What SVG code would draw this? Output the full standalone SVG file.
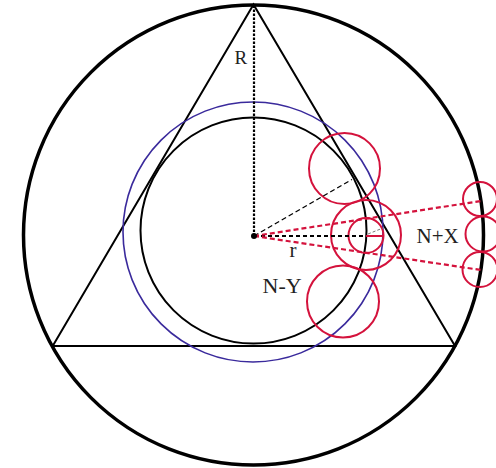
<svg xmlns="http://www.w3.org/2000/svg" width="496" height="468" viewBox="0 0 496 468">
<style>
.blk{fill:none;stroke:#000}
.red{fill:none;stroke:#d4123c;stroke-width:2}
.rdash{fill:none;stroke:#d4123c;stroke-width:2.2;stroke-dasharray:5 3}
.lbl{font-family:"Liberation Serif","Times New Roman",serif;fill:#222}
</style>
<rect width="496" height="468" fill="#fff"/>
<g id="outer-circle"><circle class="blk" cx="253.5" cy="235" r="230" stroke-width="3.5"/></g>
<g id="triangle"><polygon class="blk" points="253.5,4.5 52.7,346 455,346" stroke-width="2"/></g>
<g id="blue-circle"><circle cx="253" cy="232" r="130" fill="none" stroke="#3a2a9c" stroke-width="1.6"/></g>
<g id="inner-circle"><circle class="blk" cx="253.5" cy="230.5" r="113" stroke-width="2"/></g>
<g id="red-top"><circle class="red" cx="344.5" cy="168.5" r="35.5"/></g>
<g id="red-mid"><circle class="red" cx="366" cy="235" r="35"/></g>
<g id="red-small"><circle class="red" cx="366" cy="235.5" r="17.5"/></g>
<g id="red-bottom"><circle class="red" cx="343" cy="301.5" r="36"/></g>
<g id="red-right-top"><circle class="red" cx="480" cy="199" r="17"/></g>
<g id="red-right-mid"><circle class="red" cx="483" cy="234" r="17.5"/></g>
<g id="red-right-bottom"><circle class="red" cx="480" cy="269.5" r="17.5"/></g>
<g id="connectors">
<line x1="254" y1="236" x2="254" y2="6" stroke="#000" stroke-width="2.2" stroke-dasharray="2.5 1.5"/>
<line x1="254" y1="236" x2="352" y2="179.5" stroke="#000" stroke-width="1.3" stroke-dasharray="5 3"/>
<line x1="254" y1="236" x2="366" y2="236" stroke="#000" stroke-width="2" stroke-dasharray="4 3"/>
<line x1="366" y1="236" x2="383" y2="236" stroke="#d4123c" stroke-width="2"/>
<line x1="368" y1="234" x2="383" y2="228" stroke="#777" stroke-width="1" stroke-dasharray="3 2"/>
<line class="rdash" x1="254" y1="236" x2="481" y2="201"/>
<line class="rdash" x1="254" y1="236" x2="481" y2="270"/>
<circle cx="254" cy="236" r="3" fill="#000"/>
</g>
<g id="labels">
<text class="lbl" x="234.5" y="64" font-size="19">R</text>
<text class="lbl" x="289.5" y="257" font-size="21">r</text>
<text class="lbl" x="262.5" y="293" font-size="22">N-Y</text>
<text class="lbl" x="416.5" y="243" font-size="21">N+X</text>
</g>
</svg>
